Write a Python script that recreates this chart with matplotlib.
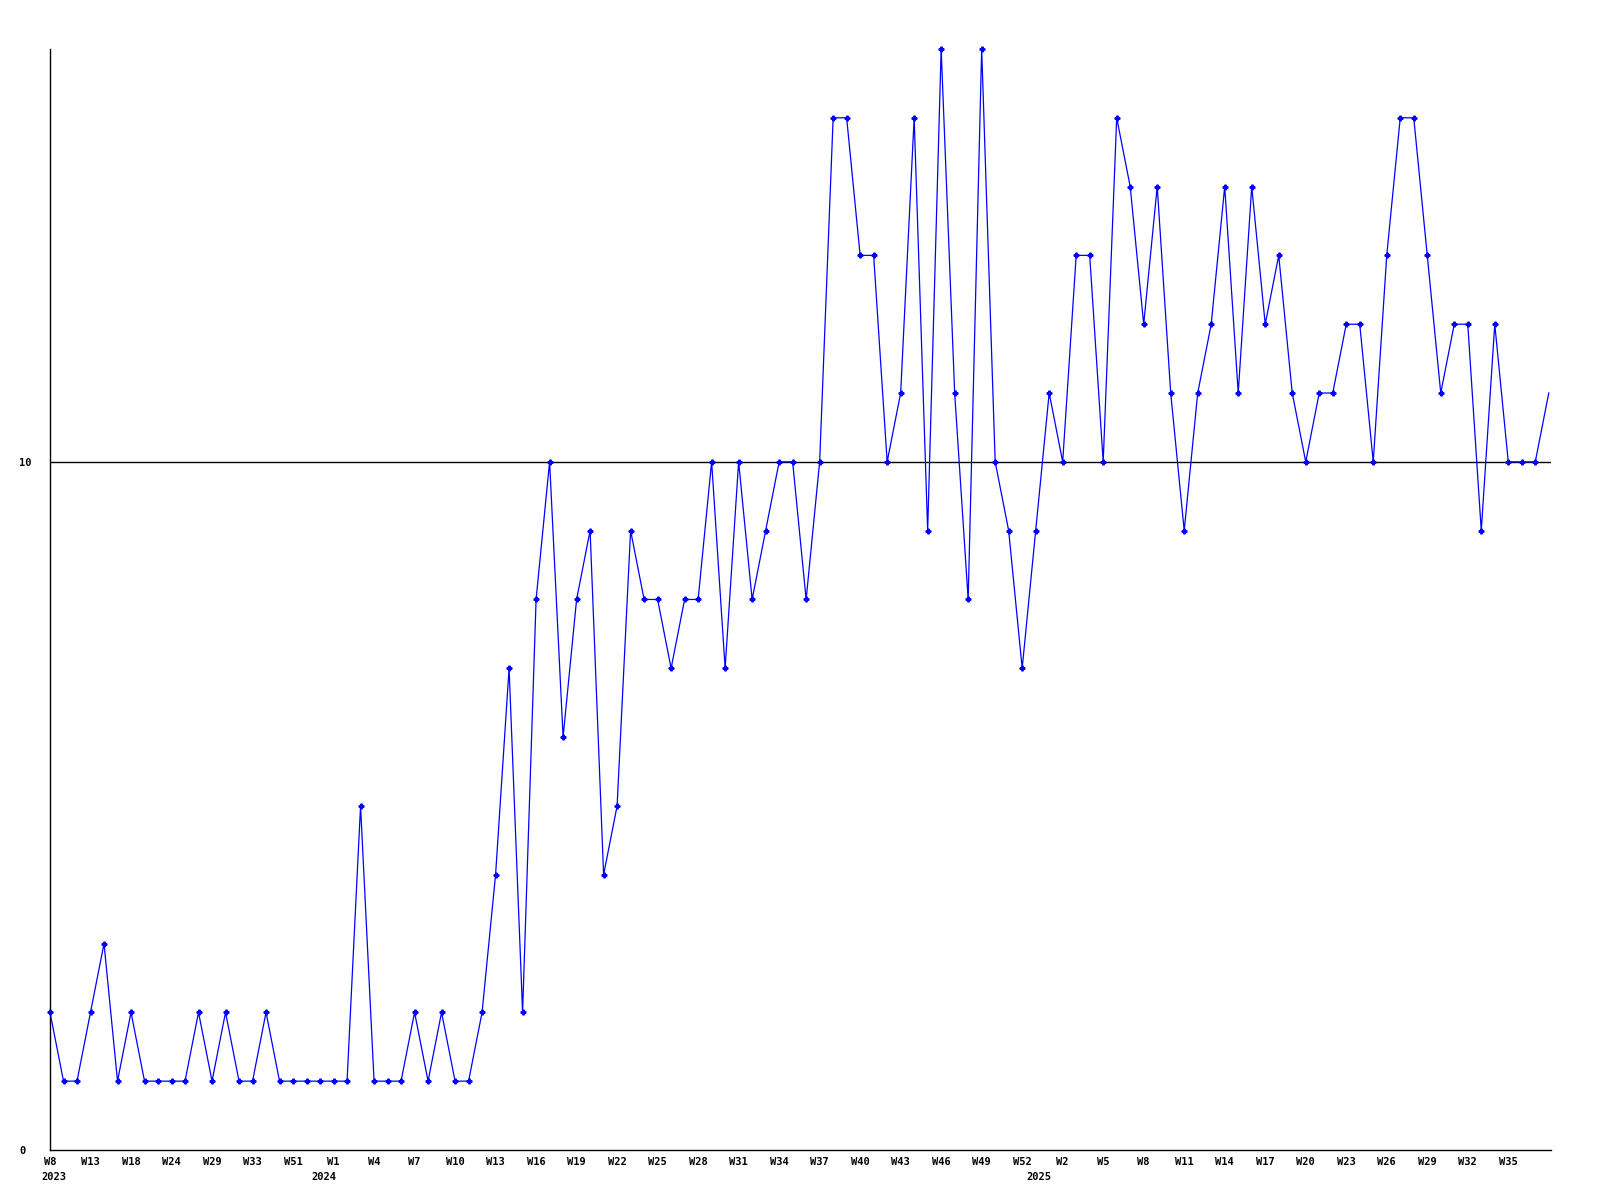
import matplotlib
matplotlib.use('Agg')
from matplotlib import pyplot as plt
import matplotlib.transforms as mtransforms

# weekly values, one per point (W8 2023 ... W38 2025)
values = [2, 1, 1, 2, 3, 1, 2, 1, 1, 1, 1, 2, 1, 2, 1, 1, 2, 1, 1, 1, 1, 1, 1,
          5,
          1, 1, 1, 2, 1, 2, 1, 1, 2,
          4, 7, 2, 8, 10, 6, 8, 9, 4, 5, 9, 8, 8, 7, 8, 8, 10, 7, 10, 8, 9, 10, 10, 8, 10,
          15, 15, 13, 13, 10, 11, 15, 9, 16, 11, 8, 16, 10, 9, 7, 9, 11, 10, 13, 13, 10,
          15, 14, 12, 14, 11, 9, 11, 12,
          14, 11, 14, 12, 13, 11, 10, 11, 11, 12, 12, 10, 13, 15, 15, 13, 11, 12, 12, 9,
          12, 10, 10, 10, 11]

# a label on every third point
week_labels = ['W8', 'W13', 'W18', 'W24', 'W29', 'W33', 'W51', 'W1', 'W4', 'W7',
               'W10', 'W13', 'W16', 'W19', 'W22', 'W25', 'W28', 'W31', 'W34',
               'W37', 'W40', 'W43', 'W46', 'W49', 'W52', 'W2', 'W5', 'W8', 'W11',
               'W14', 'W17', 'W20', 'W23', 'W26', 'W29', 'W32', 'W35']
years = ['2023', '2024', '2025']

font = {'family': 'DejaVu Sans Mono', 'weight': 'bold', 'size': 7.5}

fig = plt.figure(figsize=(16, 12), dpi=100)
ax = fig.add_axes([0.03125, 0.0417, 0.9380, 0.9175])

x = list(range(len(values)))
ax.axhline(10, color='black', lw=1.0, zorder=1)
ax.plot(x, values, color='#0000ff', lw=0.9, marker='P', markersize=3.4,
        markevery=slice(0, len(values) - 1), clip_on=False, zorder=3)

for s in ['top', 'right']:
    ax.spines[s].set_visible(False)
for s in ['left', 'bottom']:
    ax.spines[s].set_linewidth(1.0)

ax.set_xticks(range(0, 3 * len(week_labels), 3))
ax.set_xticklabels(week_labels, fontdict=font)
ax.set_yticks([0, 10])
ax.set_yticklabels(['0', '10'], fontdict=font, ha='left')
ax.tick_params(axis='x', length=0, pad=5)
ax.tick_params(axis='y', length=0, pad=22)

ax.set_xlim(0, 111.15)
ax.set_ylim(0, 16)

# year labels under the week labels
trans = mtransforms.blended_transform_factory(ax.transData, ax.transAxes)
for xpos, yr in zip([0.3, 20.3, 73.2], years):
    ax.text(xpos, -0.0245, yr, transform=trans, ha='center', va='center',
            fontdict=font, clip_on=False)

plt.savefig('out.png', dpi=100)
